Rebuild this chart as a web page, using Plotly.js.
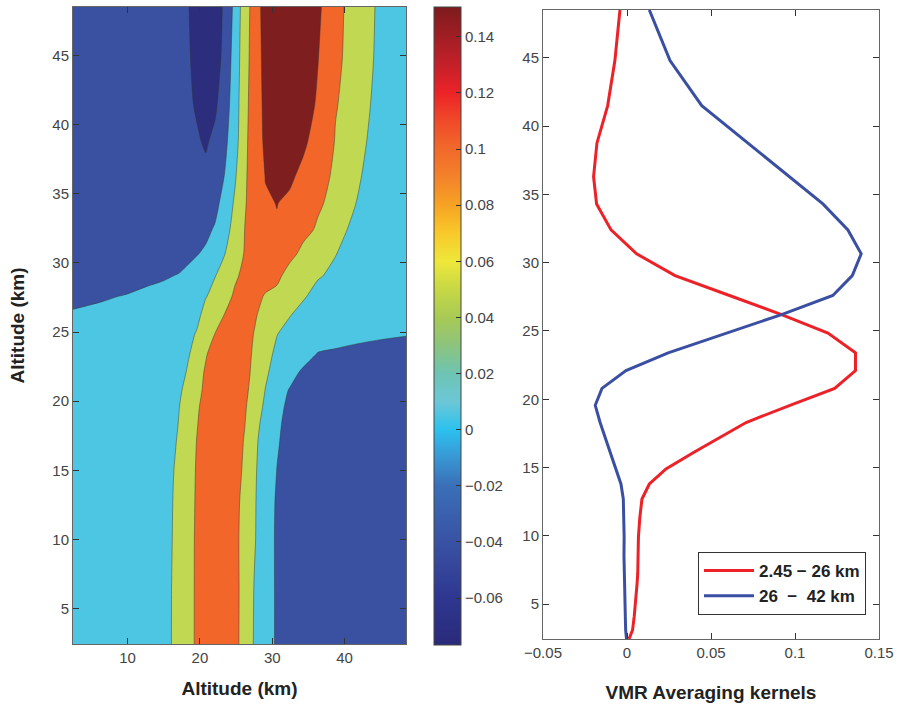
<!DOCTYPE html>
<html><head><meta charset="utf-8">
<script src="https://cdn.plot.ly/plotly-3.0.1.min.js"></script>
<style>html,body{margin:0;padding:0;background:#fff;}#chart{width:899px;height:705px;}</style>
</head><body><div id="chart"></div>
<script>
// Kernel matrix grid (altitude, km)
const gridX = [2.45, 6.5, 9.9, 12.7, 14.9, 16.1, 17.2, 18.3, 19.56, 20.8, 22.1, 23.4, 24.85, 26.2, 27.6, 29.05, 30.65, 32.4, 34.3, 36.3, 38.75, 41.5, 44.8, 48.5];
const gridY = [2.45, 6.5, 9.9, 12.7, 14.9, 17.2, 18.3, 19.56, 20.8, 22.1, 23.4, 24.85, 26.2, 27.6, 29.05, 30.65, 32.4, 34.3, 36.3, 38.75, 41.5, 44.8, 48.5];
// Averaging kernel values, one row per gridY altitude
const kernelRows = [
 [0, 0.002, 0.005, 0.010, 0.020, 0.0355, 0.051, 0.067, 0.085, 0.098, 0.105, 0.102, 0.088, 0.068, 0.029, 0.005, -0.014, -0.025, -0.030, -0.032, -0.033, -0.033, -0.032, -0.030],
 [0, 0.002, 0.005, 0.010, 0.020, 0.0353, 0.051, 0.067, 0.085, 0.099, 0.106, 0.103, 0.088, 0.069, 0.031, 0.005, -0.014, -0.025, -0.030, -0.032, -0.033, -0.033, -0.032, -0.030],
 [0, 0.002, 0.005, 0.010, 0.020, 0.034, 0.049, 0.066, 0.085, 0.099, 0.106, 0.103, 0.088, 0.068, 0.037, 0.008, -0.015, -0.025, -0.030, -0.032, -0.033, -0.033, -0.032, -0.030],
 [0, 0.002, 0.005, 0.010, 0.020, 0.033, 0.048, 0.065, 0.084, 0.099, 0.106, 0.104, 0.090, 0.069, 0.038, 0.009, -0.014, -0.025, -0.030, -0.032, -0.033, -0.033, -0.032, -0.030],
 [0, 0.002, 0.005, 0.010, 0.018, 0.031, 0.046, 0.063, 0.083, 0.099, 0.107, 0.106, 0.095, 0.073, 0.040, 0.010, -0.0106, -0.022, -0.028, -0.031, -0.032, -0.032, -0.031, -0.029],
 [0, 0.002, 0.004, 0.008, 0.014, 0.026, 0.041, 0.060, 0.0805, 0.098, 0.108, 0.110, 0.100, 0.077, 0.044, 0.014, -0.007, -0.020, -0.027, -0.031, -0.032, -0.032, -0.031, -0.029],
 [0, 0.002, 0.004, 0.008, 0.012, 0.023, 0.038, 0.057, 0.078, 0.095, 0.108, 0.112, 0.104, 0.081, 0.047, 0.021, -0.005, -0.019, -0.027, -0.031, -0.032, -0.032, -0.031, -0.029],
 [0, 0.001, 0.003, 0.006, 0.010, 0.020, 0.0355, 0.054, 0.075, 0.092, 0.106, 0.113, 0.108, 0.085, 0.054, 0.028, -0.002, -0.016, -0.025, -0.030, -0.031, -0.031, -0.030, -0.028],
 [0, 0.001, 0.002, 0.004, 0.008, 0.017, 0.030, 0.047, 0.070, 0.087, 0.102, 0.112, 0.110, 0.090, 0.062, 0.034, 0.006, -0.012, -0.022, -0.028, -0.030, -0.030, -0.029, -0.027],
 [0, 0.001, 0.002, 0.003, 0.006, 0.012, 0.022, 0.038, 0.065, 0.084, 0.100, 0.110, 0.112, 0.095, 0.067, 0.042, 0.018, 0.003, -0.016, -0.026, -0.029, -0.030, -0.029, -0.027],
 [0, 0.001, 0.002, 0.003, 0.005, 0.009, 0.017, 0.031, 0.048, 0.077, 0.095, 0.108, 0.112, 0.100, 0.070, 0.048, 0.027, 0.014, 0.005, -0.012, -0.017, -0.019, -0.020, -0.021],
 [0, 0.001, 0.002, 0.003, 0.004, 0.007, 0.012, 0.024, 0.038, 0.062, 0.081, 0.100, 0.110, 0.105, 0.076, 0.056, 0.036, 0.022, 0.014, 0.010, 0.008, -0.001, -0.006, -0.0087],
 [-0.004, -0.003, -0.002, 0, 0.002, 0.004, 0.007, 0.012, 0.025, 0.048, 0.062, 0.0815, 0.100, 0.100, 0.086, 0.057, 0.045, 0.0365, 0.022, 0.012, 0.006, 0.002, 0, -0.001],
 [-0.023, -0.0128, -0.0087, -0.004, 0, 0.003, 0.006, 0.012, 0.020, 0.033, 0.046, 0.062, 0.0869, 0.105, 0.098, 0.0753, 0.062, 0.048, 0.039, 0.023, 0.012, 0.006, 0.003, 0.001],
 [-0.035, -0.030, -0.022, -0.0164, -0.0133, -0.0105, -0.0076, -0.002, 0.006, 0.016, 0.034, 0.058, 0.074, 0.090, 0.110, 0.105, 0.095, 0.0546, 0.044, 0.038, 0.0275, 0.014, 0.008, 0.005],
 [-0.040, -0.037, -0.033, -0.029, -0.026, -0.0245, -0.0236, -0.0182, -0.0117, -0.0044, 0.015, 0.034, 0.049, 0.0839, 0.112, 0.120, 0.118, 0.098, 0.0638, 0.050, 0.036, 0.020, 0.011, 0.007],
 [-0.044, -0.042, -0.039, -0.036, -0.033, -0.031, -0.029, -0.027, -0.023, -0.0184, -0.006, 0.020, 0.049, 0.0805, 0.108, 0.121, 0.123, 0.113, 0.097, 0.0727, 0.050, 0.0242, 0.014, 0.009],
 [-0.047, -0.046, -0.044, -0.042, -0.040, -0.038, -0.036, -0.034, -0.031, -0.027, -0.0212, 0.0048, 0.0413, 0.076, 0.104, 0.122, 0.1255, 0.120, 0.104, 0.088, 0.0635, 0.0355, 0.020, 0.012],
 [-0.049, -0.048, -0.047, -0.046, -0.045, -0.045, -0.045, -0.045, -0.045, -0.0444, -0.025, -0.0095, 0.030, 0.075, 0.0983, 0.126, 0.135, 0.130, 0.1181, 0.100, 0.0712, 0.042, 0.015, 0.010],
 [-0.050, -0.050, -0.049, -0.048, -0.047, -0.047, -0.047, -0.048, -0.0496, -0.060, -0.0438, -0.0195, 0.015, 0.075, 0.0925, 0.1353, 0.143, 0.140, 0.130, 0.1133, 0.0778, 0.050, 0.0181, 0.012],
 [-0.052, -0.052, -0.051, -0.050, -0.048, -0.047, -0.046, -0.0463, -0.060, -0.070, -0.063, -0.0283, 0.0096, 0.072, 0.0944, 0.1388, 0.146, 0.145, 0.138, 0.12175, 0.082, 0.0663, 0.0171, 0.013],
 [-0.052, -0.052, -0.052, -0.051, -0.050, -0.049, -0.048, -0.0489, -0.068, -0.076, -0.075, -0.0425, 0.0098, 0.0622, 0.1037, 0.138, 0.149, 0.148, 0.143, 0.126, 0.1015, 0.0392, 0.0337, 0.018],
 [-0.053, -0.053, -0.053, -0.052, -0.051, -0.050, -0.050, -0.0522, -0.070, -0.077, -0.077, -0.0484, 0.0022, 0.0612, 0.0988, 0.1463, 0.1505, 0.150, 0.145, 0.130, 0.1055, 0.0445, 0.0329, 0.020]
];
// Summed (partial column) VMR averaging kernels
const kernelAlt = [2.45, 3.1, 4.1, 5.3, 6.5, 7.25, 8.5, 9.9, 11.3, 12.7, 13.8, 14.9, 16.1, 17.2, 18.3, 19.56, 20.8, 22.1, 23.4, 24.85, 26.2, 27.6, 29.05, 30.65, 32.4, 34.3, 36.3, 38.75, 41.5, 44.8, 48.5];
const kernelLow = [0.0012, 0.0033, 0.0043, 0.0053, 0.0060, 0.0064, 0.0066, 0.0068, 0.0076, 0.0089, 0.0133, 0.0232, 0.0396, 0.0550, 0.0709, 0.0970, 0.1236, 0.1360, 0.1360, 0.1196, 0.0920, 0.0610, 0.0286, 0.0057, -0.0095, -0.0181, -0.0199, -0.0179, -0.0115, -0.0072, -0.0042];
const kernelHigh = [-0.0003, -0.0008, -0.0010, -0.0012, -0.0013, -0.0018, -0.0018, -0.0017, -0.0019, -0.0022, -0.0036, -0.0065, -0.0098, -0.0130, -0.0160, -0.0189, -0.0149, -0.0006, 0.0245, 0.0593, 0.0920, 0.1225, 0.1341, 0.1394, 0.1315, 0.1166, 0.0965, 0.0721, 0.0445, 0.0256, 0.0133];
const seriesNames = ['2.45 \u2212 26 km', '26\u00a0 \u2212\u00a0 42 km'];
const contourLevels = {start: -0.055, end: 0.126, size: 0.045};
const colorRange = [-0.0767, 0.1506];

const W = 899, H = 705;
const fam = 'Liberation Sans, Arial, Helvetica, sans-serif';
const tickFont = {family: fam, size: 15, color: '#444'};
const titleFont = {family: fam, size: 19, color: '#222', weight: 'bold'};

const jet = [
 [0, '#2a2a7a'], [0.0735, '#2e3790'], [0.161, '#3952a3'], [0.249, '#3a6fb8'], [0.293, '#3996d3'],
 [0.3374, '#2cc1ef'], [0.3814, '#6cc7d6'], [0.4254, '#6ec4b3'], [0.4694, '#8cc47e'], [0.5134, '#a8ca55'],
 [0.5574, '#c6d845'], [0.6014, '#efe73a'], [0.6454, '#f8c92a'], [0.6894, '#f6a323'], [0.7334, '#f3822a'],
 [0.7774, '#f2692b'], [0.8214, '#ef4a29'], [0.8654, '#ec2327'], [0.9094, '#c4202a'], [0.9534, '#a11e23'], [1, '#7d1b1d']
];
const bands = [[0, '#2c2d7d'], [0.2, '#3a51a2'], [0.4, '#4dc6e4'], [0.6, '#c1d852'], [0.8, '#f2662a'], [1, '#7e1e1e']];

const traces = [
 {type: 'contour', x: gridX, y: gridY, z: kernelRows, xaxis: 'x', yaxis: 'y',
  autocontour: false, contours: Object.assign({coloring: 'fill', showlines: true}, contourLevels),
  colorscale: bands, showscale: false, line: {width: 0.6, color: 'rgba(50,50,50,0.75)', smoothing: 0.7},
  hoverinfo: 'skip', showlegend: false},
 {type: 'scatter', mode: 'markers', x: [-100], y: [-100], xaxis: 'x', yaxis: 'y', showlegend: false, hoverinfo: 'skip',
  marker: {color: [0], cmin: colorRange[0], cmax: colorRange[1], colorscale: jet, showscale: true, size: 1,
   colorbar: {x: 434 / W, xanchor: 'left', xref: 'paper', y: 1 - 7 / H, yanchor: 'top', yref: 'paper',
    len: 638, lenmode: 'pixels', thickness: 27, thicknessmode: 'pixels', xpad: 0, ypad: 0,
    outlinewidth: 1, outlinecolor: '#444', borderwidth: 0, ticks: 'inside', ticklen: 5, tickcolor: '#333',
    tickmode: 'linear', tick0: 0, dtick: 0.02, tickfont: tickFont}}},
 {type: 'scatter', mode: 'lines', x: kernelLow, y: kernelAlt, xaxis: 'x2', yaxis: 'y2', name: seriesNames[0],
  line: {color: '#ec2228', width: 3}},
 {type: 'scatter', mode: 'lines', x: kernelHigh, y: kernelAlt, xaxis: 'x2', yaxis: 'y2', name: seriesNames[1],
  line: {color: '#3a4fa2', width: 3}}
];

const axBase = {showline: true, linecolor: '#666', linewidth: 1, mirror: 'ticks', ticks: 'inside', ticklen: 6,
 tickcolor: '#333', tickwidth: 1, showgrid: false, zeroline: false, tickfont: tickFont, automargin: false};

const layout = {
 width: W, height: H, margin: {l: 0, r: 0, t: 0, b: 0}, paper_bgcolor: '#fff', plot_bgcolor: '#fff',
 font: {family: fam},
 xaxis: Object.assign({}, axBase, {domain: [73 / W, 406 / W], range: [2.45, 48.5], tickvals: [10, 20, 30, 40],
  title: {text: 'Altitude (km)', font: titleFont, standoff: 16}}),
 yaxis: Object.assign({}, axBase, {domain: [1 - 644 / H, 1 - 7 / H], range: [2.45, 48.5], tickvals: [5, 10, 15, 20, 25, 30, 35, 40, 45],
  title: {text: 'Altitude (km)', font: titleFont, standoff: 22}}),
 xaxis2: Object.assign({}, axBase, {domain: [543 / W, 879 / W], range: [-0.05, 0.15], anchor: 'y2',
  tickvals: [-0.05, 0, 0.05, 0.1, 0.15], title: {text: 'VMR Averaging kernels', font: titleFont, standoff: 25}}),
 yaxis2: Object.assign({}, axBase, {domain: [1 - 639 / H, 1 - 10 / H], range: [2.45, 48.5], anchor: 'x2',
  tickvals: [5, 10, 15, 20, 25, 30, 35, 40, 45]}),
 showlegend: true,
 legend: {x: 698 / W, y: 1 - 552 / H, xanchor: 'left', yanchor: 'top', bgcolor: '#fff', bordercolor: '#333', borderwidth: 1,
  font: {family: fam, size: 17, color: '#222', weight: 'bold'}, tracegroupgap: 0, itemwidth: 50}
};

Plotly.newPlot('chart', traces, layout, {staticPlot: true, displayModeBar: false});
</script></body></html>
